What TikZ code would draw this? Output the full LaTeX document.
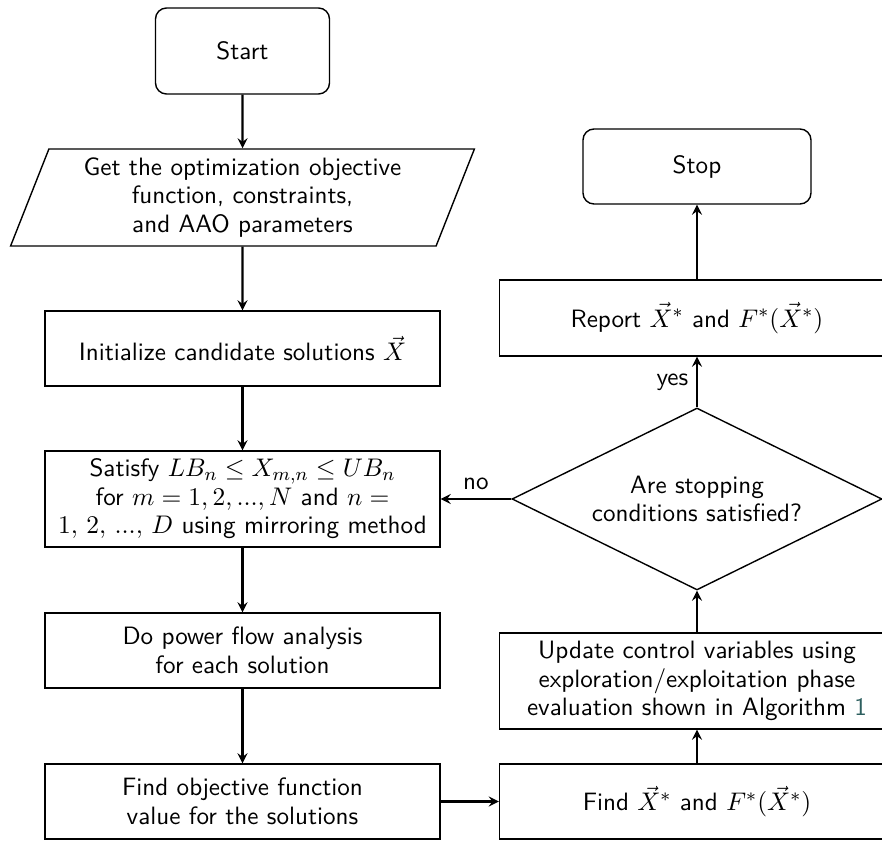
\documentclass[tikz,border=0pt]{standalone}
\usepackage{amsmath}
\usepackage{tikz}
\usetikzlibrary{arrows,shapes.geometric}
\newlength\unitpx
\setlength\unitpx{0.43pt}
\definecolor{algref}{RGB}{45,95,95}

\begin{document}
\begin{tikzpicture}[x=\unitpx,y=-\unitpx,->,>=stealth,line width=0.9pt,
  base/.style={draw,line width=0.6pt,font=\sffamily\fontsize{10.8}{12.25}\selectfont,align=center,inner sep=2pt},
  process/.style={base,rectangle,minimum width=395\unitpx,minimum height=75\unitpx},
  terminal/.style={base,rectangle,rounded corners=11\unitpx,minimum height=75\unitpx},
  io/.style={base,trapezium,trapezium left angle=70,trapezium right angle=110,trapezium stretches,minimum width=465\unitpx,minimum height=97\unitpx},
  decision/.style={base,diamond,aspect=2,minimum width=370\unitpx,minimum height=182\unitpx,inner sep=0pt},
  lbl/.style={font=\sffamily\fontsize{10.8}{12.25}\selectfont,draw=none}]
\path[use as bounding box,clip] (0,0) rectangle (882,841);
\node[terminal,minimum width=174\unitpx,minimum height=86\unitpx] (start) at (242.5,51) {Start};
\node[io,node distance=146.5\unitpx,below of=start] (input) {Get the optimization objective\\function, constraints,\\and AAO parameters};
\node[process,node distance=151\unitpx,below of=input] (init) {Initialize candidate solutions $\vec{X}$};
\node[process,minimum height=96\unitpx,node distance=150.5\unitpx,below of=init] (bounds) {Satisfy $LB_n \leq X_{m,n} \leq UB_n$\\for $m = 1,2,...,N$ and $n =$\\$1,\,2,\,...,\,D$ using mirroring method};
\node[process,node distance=151.5\unitpx,below of=bounds] (flow) {Do power flow analysis\\for each solution};
\node[process,node distance=151\unitpx,below of=flow] (objective) {Find objective function\\value for the solutions};
\node[process,node distance=454.5\unitpx,right of=objective] (best) {Find $\vec{X}^*$ and $F^*(\vec{X}^*)$};
\node[process,minimum height=96\unitpx,node distance=120.5\unitpx,above of=best] (update) {Update control variables using\\exploration/exploitation phase\\evaluation shown in Algorithm \textcolor{algref}{1}};
\node[decision,node distance=182\unitpx,above of=update] (check) {Are stopping\\conditions satisfied?};
\node[process,minimum height=76\unitpx,node distance=181\unitpx,above of=check] (report) {Report $\vec{X}^*$ and $F^*(\vec{X}^*)$};
\node[terminal,minimum width=228\unitpx,node distance=151.5\unitpx,above of=report] (stop) {Stop};
\path (start) edge (input)
(input) edge (init)
(init) edge (bounds)
(bounds) edge (flow)
(flow) edge (objective)
(objective) edge (best)
(best) edge (update)
(update) edge (check)
(check) edge node[lbl,above] {no} (bounds)
(check) edge node[lbl,left] {yes} (report)
(report) edge (stop)
;\end{tikzpicture}
\end{document}
